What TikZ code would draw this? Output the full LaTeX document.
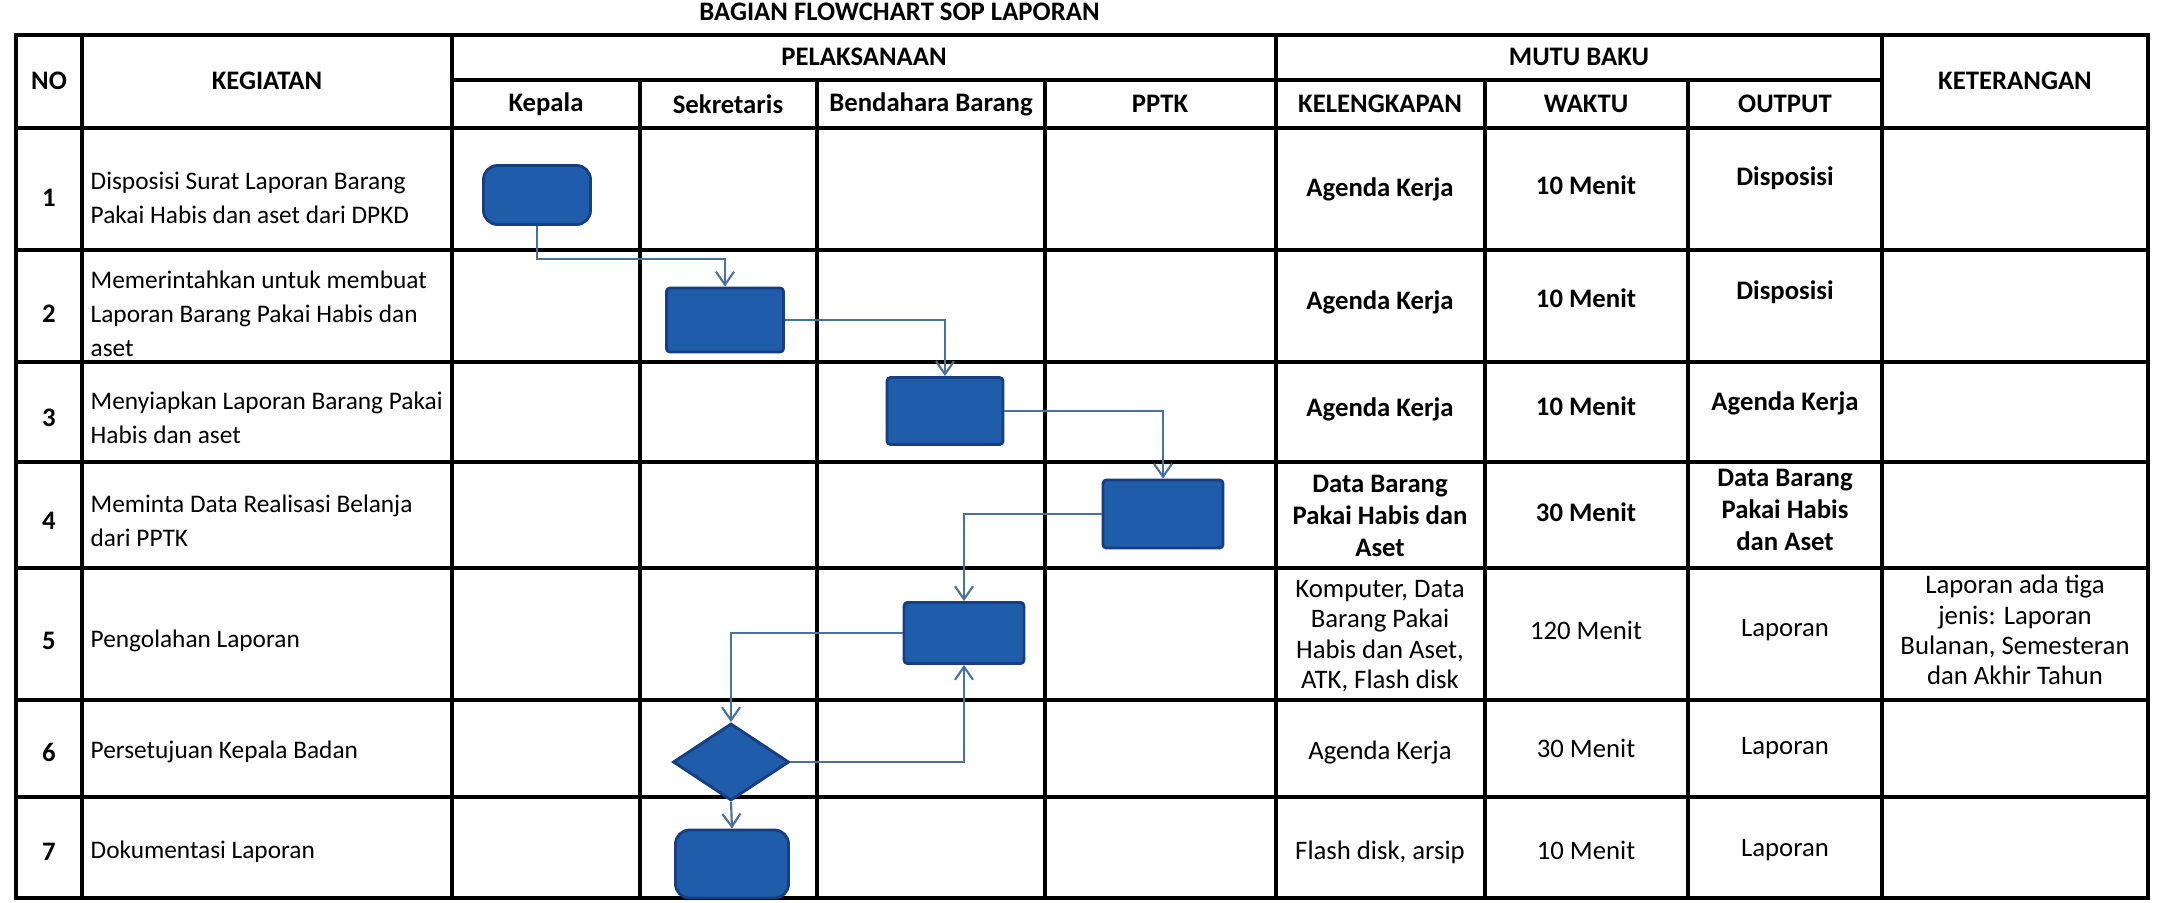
\documentclass[tikz,border=0pt]{standalone}
\usepackage{fontspec}
\setmainfont{Carlito}
\usepackage{xcolor}
\usepackage{tikz}
\usetikzlibrary{shapes.geometric, arrows.meta, positioning}
\definecolor{biru}{RGB}{31,93,171}
\definecolor{birutua}{RGB}{22,62,128}
\definecolor{alurwarna}{RGB}{74,112,160}

\begin{document}
\begin{tikzpicture}[
  x=0.01cm, y=-0.01cm,
  garis/.style={draw=black, line width=0.9pt},
  kotak/.style={
    rectangle, draw=birutua, fill=biru, line width=0.8pt,
    rounded corners=1pt, inner sep=0pt
  },
  kotakbulat/.style={kotak, rounded corners=4pt},
  belah/.style={
    diamond, draw=birutua, fill=biru, line width=0.8pt, inner sep=0pt,
    minimum width=1.16cm, minimum height=0.77cm
  },
  alur/.style={draw=alurwarna, line width=0.6pt, -{Straight Barb[length=1.3mm,width=1.8mm]}},
  judulatas/.style={anchor=west, font=\fontsize{7.6}{9}\selectfont\bfseries},
  tajuk/.style={font=\fontsize{7.6}{9}\selectfont\bfseries},
  nomor/.style={font=\fontsize{7.6}{9}\selectfont\bfseries},
  kegiatan/.style={anchor=west, align=left, inner sep=0pt, font=\fontsize{7.2}{9.6}\selectfont},
  mutu/.style={align=center, inner sep=0pt, font=\fontsize{7.6}{9}\selectfont\bfseries},
  mutubiasa/.style={align=center, inner sep=0pt, font=\fontsize{7.6}{8.6}\selectfont}
]
\useasboundingbox (0,0) rectangle (2166,902);

% ── TABEL ────────────────────────────────────────────────────

\node[judulatas] (judul) at (687,12) {BAGIAN FLOWCHART SOP LAPORAN};

\draw[garis] (16,35) rectangle (2148,898);
\draw[garis] (452,80) -- (1882,80);
\draw[garis] (16,128) -- (2148,128);
\draw[garis] (16,250) -- (2148,250);
\draw[garis] (16,362) -- (2148,362);
\draw[garis] (16,462) -- (2148,462);
\draw[garis] (16,568) -- (2148,568);
\draw[garis] (16,700) -- (2148,700);
\draw[garis] (16,797) -- (2148,797);

\draw[garis] (82,35) -- (82,898);
\draw[garis] (452,35) -- (452,898);
\draw[garis] (640,80) -- (640,898);
\draw[garis] (817,80) -- (817,898);
\draw[garis] (1045,80) -- (1045,898);
\draw[garis] (1276,35) -- (1276,898);
\draw[garis] (1485,80) -- (1485,898);
\draw[garis] (1688,80) -- (1688,898);
\draw[garis] (1882,35) -- (1882,898);

% ── TAJUK ────────────────────────────────────────────────────

\node[tajuk] (h_no)      at (49,81)    {NO};
\node[tajuk] (h_keg)     at (267,81)   {KEGIATAN};
\node[tajuk] (h_pel)     at (864,57)   {PELAKSANAAN};
\node[tajuk] (h_kepala)  at (546,104)  {Kepala};
\node[tajuk] (h_sekre)   at (728,104)  {Sekretaris};
\node[tajuk] (h_benda)   at (931,104)  {Bendahara Barang};
\node[tajuk] (h_pptk)    at (1160,104) {PPTK};
\node[tajuk] (h_mutu)    at (1579,57)  {MUTU BAKU};
\node[tajuk] (h_kel)     at (1380,104) {KELENGKAPAN};
\node[tajuk] (h_waktu)   at (1586,104) {WAKTU};
\node[tajuk] (h_output)  at (1785,104) {OUTPUT};
\node[tajuk] (h_ket)     at (2015,81)  {KETERANGAN};

% ── KEGIATAN ─────────────────────────────────────────────────

\node[nomor] (no1) at (49,198) {1};
\node[kegiatan] (keg1) at (90,198) {Disposisi Surat Laporan Barang\\Pakai Habis dan aset dari DPKD};
\node[nomor] (no2) at (49,314) {2};
\node[kegiatan] (keg2) at (90,314) {Memerintahkan untuk membuat\\Laporan Barang Pakai Habis dan\\aset};
\node[nomor] (no3) at (49,418) {3};
\node[kegiatan] (keg3) at (90,418) {Menyiapkan Laporan Barang Pakai\\Habis dan aset};
\node[nomor] (no4) at (49,521) {4};
\node[kegiatan] (keg4) at (90,521) {Meminta Data Realisasi Belanja\\dari PPTK};
\node[nomor] (no5) at (49,641) {5};
\node[kegiatan] (keg5) at (90,641) {Pengolahan Laporan};
\node[nomor] (no6) at (49,752) {6};
\node[kegiatan] (keg6) at (90,752) {Persetujuan Kepala Badan};
\node[nomor] (no7) at (49,852) {7};
\node[kegiatan] (keg7) at (90,852) {Dokumentasi Laporan};

% ── MUTU BAKU ────────────────────────────────────────────────

\node[mutu] (kel1) at (1380,189) {Agenda Kerja};
\node[mutu] (wak1) at (1586,185) {10 Menit};
\node[mutu] (out1) at (1785,178) {Disposisi};
\node[mutu] (kel2) at (1380,302) {Agenda Kerja};
\node[mutu] (wak2) at (1586,298) {10 Menit};
\node[mutu] (out2) at (1785,292) {Disposisi};
\node[mutu] (kel3) at (1380,409) {Agenda Kerja};
\node[mutu] (wak3) at (1586,406) {10 Menit};
\node[mutu] (out3) at (1785,403) {Agenda Kerja};
\node[mutu] (kel4) at (1380,516) {Data Barang\\Pakai Habis dan\\Aset};
\node[mutu] (wak4) at (1586,512) {30 Menit};
\node[mutu] (out4) at (1785,510) {Data Barang\\Pakai Habis\\dan Aset};
\node[mutubiasa] (kel5) at (1380,636) {Komputer, Data\\Barang Pakai\\Habis dan Aset,\\ATK, Flash disk};
\node[mutubiasa] (wak5) at (1586,630) {120 Menit};
\node[mutubiasa] (out5) at (1785,630) {Laporan};
\node[mutubiasa] (ket5) at (2015,630) {Laporan ada tiga\\jenis: Laporan\\Bulanan, Semesteran\\dan Akhir Tahun};
\node[mutubiasa] (kel6) at (1380,752) {Agenda Kerja};
\node[mutubiasa] (wak6) at (1586,748) {30 Menit};
\node[mutubiasa] (out6) at (1785,748) {Laporan};
\node[mutubiasa] (kel7) at (1380,852) {Flash disk, arsip};
\node[mutubiasa] (wak7) at (1586,850) {10 Menit};
\node[mutubiasa] (out7) at (1785,850) {Laporan};

% ── BAGAN ALUR ───────────────────────────────────────────────

\node[kotakbulat, minimum width=1.07cm, minimum height=0.59cm] (disposisi) at (537,195) {};
\node[kotak, minimum width=1.17cm, minimum height=0.64cm] (perintah) at (725,320) {};
\node[kotak, minimum width=1.16cm, minimum height=0.67cm] (siapkan) at (945,411) {};
\node[kotak, minimum width=1.20cm, minimum height=0.68cm] (minta) at (1163,514) {};
\node[kotak, minimum width=1.20cm, minimum height=0.61cm] (olah) at (964,633) {};
\node[belah] (setuju) at (731,762) {};
\node[kotakbulat, minimum width=1.13cm, minimum height=0.68cm] (dokumen) at (732,864) {};

% kepala -> sekretaris
\draw[alur] (disposisi.south) -- ++(0,33) -| (perintah.north);
% sekretaris -> bendahara
\draw[alur] (perintah.east) -| (siapkan.north);
% bendahara -> pptk
\draw[alur] (siapkan.east) -| (minta.north);
% pptk -> bendahara
\draw[alur] (minta.west) -| (olah.north);
% bendahara -> persetujuan
\draw[alur] (olah.west) -| (setuju.north);
% persetujuan -> pengolahan (kembali)
\draw[alur] (setuju.east) -| (olah.south);
% persetujuan -> dokumentasi
\draw[alur] (setuju.south) -- (dokumen.north);

\end{tikzpicture}
\end{document}
